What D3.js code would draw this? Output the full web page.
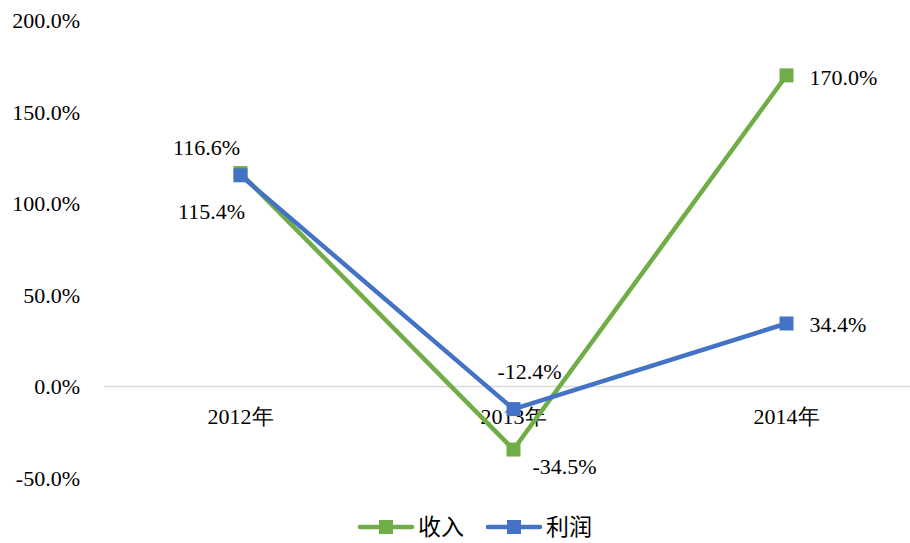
<!DOCTYPE html>
<html>
<head>
<meta charset="utf-8">
<script src="https://cdn.jsdelivr.net/npm/d3@7"></script>
<style>
  body { margin: 0; background: #fff; }
</style>
</head>
<body>
<div id="chart"></div>
<script>
// data
var years = ["2012年", "2013年", "2014年"];
var revenue = [116.6, -34.5, 170.0];   // 收入
var profit = [115.4, -12.4, 34.4];     // 利润
var yTicks = [-50, 0, 50, 100, 150, 200];

var serif = "'Liberation Serif', 'DejaVu Serif', serif";

var svgWidth = 910;
var svgHeight = 543;

var svg = d3.select("#chart")
  .append("svg")
  .attr("width", svgWidth)
  .attr("height", svgHeight)
  .style("font-family", serif);

// plot area runs a bit past the right edge, like the original
var x = d3.scaleBand()
  .domain(years)
  .range([104, 923]);

var y = d3.scaleLinear()
  .domain([-50, 200])
  .range([477.9, 20.5]);

// y tick labels (no axis line)
svg.append("g")
  .selectAll("text")
  .data(yTicks)
  .enter()
  .append("text")
  .attr("x", 80)
  .attr("y", d => y(d))
  .attr("dy", "0.35em")
  .attr("text-anchor", "end")
  .style("font-family", serif)
  .style("font-size", "22px")
  .text(d => d.toFixed(1) + "%");

// zero line
svg.append("line")
  .attr("x1", 104)
  .attr("x2", 923)
  .attr("y1", y(0))
  .attr("y2", y(0))
  .attr("stroke", "#d9d9d9")
  .attr("stroke-width", 1.5);

// category labels under zero line
svg.append("g")
  .selectAll("text")
  .data(years)
  .enter()
  .append("text")
  .attr("x", d => x(d) + x.bandwidth() / 2)
  .attr("y", y(0) + 38)
  .attr("text-anchor", "middle")
  .style("font-family", serif)
  .style("font-size", "22px")
  .text(d => d);

var series = [
  { name: "收入", color: "#70AD47", values: revenue },
  { name: "利润", color: "#4472C4", values: profit }
];

var cx = i => x(years[i]) + x.bandwidth() / 2;

var line = d3.line()
  .x((d, i) => cx(i))
  .y(d => y(d));

series.forEach(function(s) {
  svg.append("path")
    .datum(s.values)
    .attr("fill", "none")
    .attr("stroke", s.color)
    .attr("stroke-width", 4.5)
    .attr("stroke-linejoin", "round")
    .attr("d", line);

  svg.append("g")
    .selectAll("rect")
    .data(s.values)
    .enter()
    .append("rect")
    .attr("x", (d, i) => cx(i) - 7)
    .attr("y", d => y(d) - 7)
    .attr("width", 14)
    .attr("height", 14)
    .attr("fill", s.color);
});

// data labels: [series index, point index, dx, dy, anchor]
var labelPos = [
  [0, 0, -34, -18, "middle"],
  [1, 0, -29, 44, "middle"],
  [1, 1, 16, -30, "middle"],
  [0, 1, 51, 24, "middle"],
  [0, 2, 23, 10, "start"],
  [1, 2, 23, 9, "start"]
];

svg.append("g")
  .selectAll("text")
  .data(labelPos)
  .enter()
  .append("text")
  .attr("x", d => cx(d[1]) + d[2])
  .attr("y", d => y(series[d[0]].values[d[1]]) + d[3])
  .attr("text-anchor", d => d[4])
  .style("font-family", serif)
  .style("font-size", "22px")
  .text(d => series[d[0]].values[d[1]].toFixed(1) + "%");

// legend
var legend = svg.append("g")
  .attr("transform", "translate(358, 527)");

series.forEach(function(s, i) {
  var g = legend.append("g")
    .attr("transform", `translate(${i * 128}, 0)`);
  g.append("line")
    .attr("x1", 2)
    .attr("x2", 54)
    .attr("stroke", s.color)
    .attr("stroke-width", 4.5)
    .attr("stroke-linecap", "round");
  g.append("rect")
    .attr("x", 21)
    .attr("y", -7)
    .attr("width", 14)
    .attr("height", 14)
    .attr("fill", s.color);
  g.append("text")
    .attr("x", 60)
    .attr("dy", "0.35em")
    .style("font-family", "'Noto Sans CJK SC', sans-serif")
    .style("font-size", "23px")
    .text(s.name);
});
</script>
</body>
</html>
